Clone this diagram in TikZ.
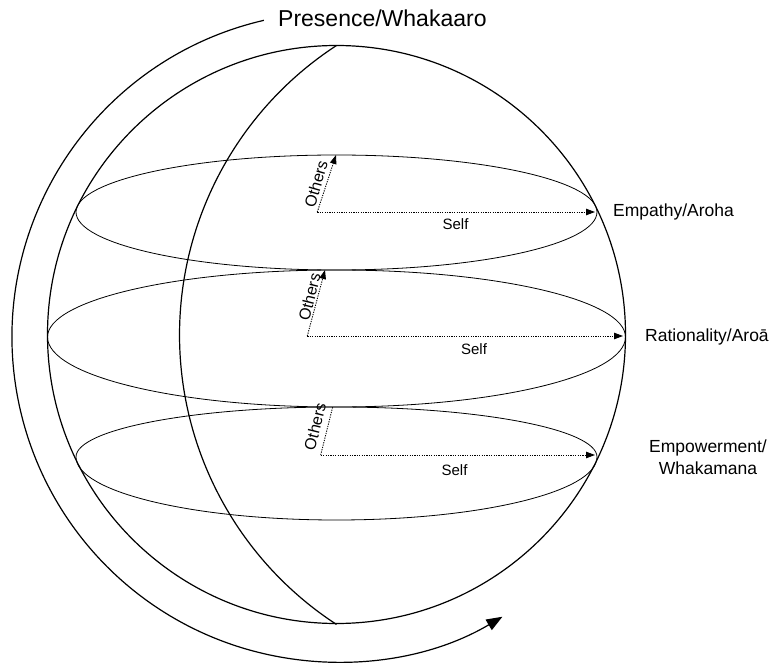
\documentclass[tikz,border=0pt]{standalone}
\usepackage{fontspec}
\setmainfont{Liberation Sans}
\usetikzlibrary{arrows.meta,calc}
\begin{document}
\begin{tikzpicture}[x=1pt,y=1pt,
  rim/.style={line width=1.2pt},
  band/.style={line width=0.8pt},
  axisline/.style={line width=0.9pt, dash pattern=on 1.2pt off 1.2pt},
  axisarrow/.style={axisline, -{Triangle[length=9pt,width=6.5pt]}},
  turn/.style={line width=1.2pt, -{Triangle[length=16pt,width=12pt]}},
  biglabel/.style={font=\fontsize{23}{27}\selectfont, inner sep=0pt},
  sidelabel/.style={font=\fontsize{17.5}{22}\selectfont, inner sep=0pt},
  axislabel/.style={font=\fontsize{15}{18}\selectfont, inner sep=0pt},
  otherslabel/.style={font=\fontsize{16}{19}\selectfont, inner sep=0pt},
]
\useasboundingbox (0,0) rectangle (772,-666);

% the sphere and its meridian
\node[rim, draw, circle, minimum size=578pt, inner sep=0pt, outer sep=0pt] (globe) at (336.5,-334.5) {};
\draw[rim] (globe.north) arc[start angle=123.06, end angle=236.94, radius=345.4];

% three latitude bands (upper and lower halves slightly different)
\coordinate (band1) at (597,-212);
\coordinate (band2) at (625.5,-337);
\coordinate (band3) at (597,-457);
\draw[band] (band1) arc[start angle=0, end angle=180, x radius=260.5, y radius=57]
                    arc[start angle=180, end angle=360, x radius=260.5, y radius=58];
\draw[band] (band2) arc[start angle=0, end angle=180, x radius=289, y radius=67]
                    arc[start angle=180, end angle=360, x radius=289, y radius=70];
\draw[band] (band3) arc[start angle=0, end angle=180, x radius=260.5, y radius=50]
                    arc[start angle=180, end angle=360, x radius=260.5, y radius=63];

% the turning arrow round the sphere
\coordinate (ring) at (337,-337);
\coordinate (ringstart) at ($(ring)+(103:325)$);
\draw[turn] (ringstart) arc[start angle=103, end angle=300.6, radius=325];

% Self / Others axes in each band
\coordinate (o1) at (317.3,-212);
\coordinate (s1) at (595,-212);
\coordinate (t1) at (336,-155);
\coordinate (o2) at (307.3,-336);
\coordinate (s2) at (623,-336);
\coordinate (t2) at (325,-270);
\coordinate (o3) at (320.7,-455);
\coordinate (s3) at (595,-455);
\coordinate (t3) at (332.7,-407);
\draw[axisarrow] (o1) -- (s1);
\draw[axisarrow] (o1) -- (t1);
\draw[axisarrow] (o2) -- (s2);
\draw[axisarrow] (o2) -- (t2);
\draw[axisarrow] (o3) -- (s3);
\draw[axisline] (o3) -- (t3);

\node[axislabel, anchor=base] (self1) at (455.5,-229.3) {Self};
\node[axislabel, anchor=base] (self2) at (474,-354) {Self};
\node[axislabel, anchor=base] (self3) at (454.5,-475) {Self};
\node[otherslabel, rotate=74] (others1) at (316,-184) {Others};
\node[otherslabel, rotate=76] (others2) at (309.5,-297) {Others};
\node[otherslabel, rotate=76] (others3) at (315,-426.5) {Others};

% labels
\node[biglabel, anchor=base west] (presence) at (278,-26.7) {Presence/Whakaaro};
\node[sidelabel, anchor=base west] (empathy) at (613,-217) {Empathy/Aroha};
\node[sidelabel, anchor=base west] (rationality) at (645,-341) {Rationality/Aroā};
\node[sidelabel, align=center] (empowerment) at (708,-457.5) {Empowerment/\\Whakamana};
\end{tikzpicture}
\end{document}
